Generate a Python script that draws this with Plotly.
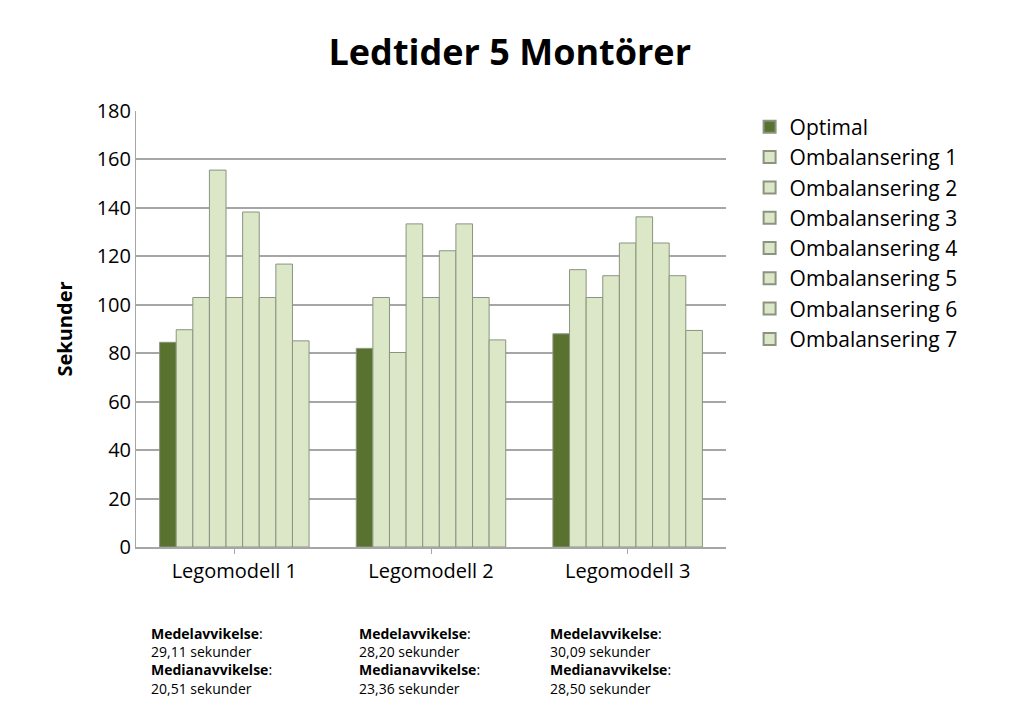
import plotly.graph_objects as go

categories = ["Legomodell 1", "Legomodell 2", "Legomodell 3"]
series_names = ["Optimal"] + [f"Ombalansering {i}" for i in range(1, 9)]
optimal = [84.5, 82, 88]
omb1 = [89.7, 103, 114.5]
omb2 = [103, 80.3, 103]
omb3 = [155.6, 133.4, 112]
omb4 = [103, 103, 125.5]
omb5 = [138.3, 122.3, 136.3]
omb6 = [103, 133.4, 125.5]
omb7 = [116.8, 103, 112]
omb8 = [85.1, 85.5, 89.4]
values = [optimal, omb1, omb2, omb3, omb4, omb5, omb6, omb7, omb8]
stats = [("29,11", "20,51"), ("28,20", "23,36"), ("30,09", "28,50")]

fig = go.Figure()
for i, (name, vals) in enumerate(zip(series_names, values)):
    fig.add_trace(go.Bar(
        x=categories, y=vals, name=name, showlegend=(i < 8),
        marker=dict(color="#5a7230" if i == 0 else "#dbe7c6",
                    line=dict(color="#8a9480", width=1)),
    ))

L, R, T, B = 128, 306, 103, 178
plot_w = 1024 - L - R
plot_h = 717 - T - B

fig.update_layout(
    width=1024, height=717, barmode="group", bargap=0.24, bargroupgap=0,
    paper_bgcolor="white", plot_bgcolor="white",
    font=dict(family="Open Sans, DejaVu Sans, sans-serif", color="black"),
    title=dict(text="<b>Ledtider 5 Montörer</b>", x=0.49, xanchor="center",
               y=0.955, font=dict(size=36)),
    margin=dict(l=L, r=R, t=T, b=B),
    yaxis=dict(range=[0, 180], dtick=20, gridcolor="#a6a6a6", gridwidth=2,
               showline=True, linecolor="#a6a6a6", tickfont=dict(size=20),
               title=dict(text="<b>Sekunder</b>", font=dict(size=20), standoff=18)),
    xaxis=dict(showline=True, linecolor="#a6a6a6", linewidth=2,
               tickfont=dict(size=20), ticks="outside", tickcolor="#a6a6a6"),
    legend=dict(x=1.04, y=1.01, yanchor="top", font=dict(size=21),
                tracegroupgap=0, itemsizing="constant"),
)
for px, (me, md) in zip([141, 349, 540], stats):
    fig.add_annotation(
        xref="paper", yref="paper", x=(px - L) / plot_w, y=-(614 - 539) / plot_h,
        xanchor="left", yanchor="top", align="left", showarrow=False,
        font=dict(size=14),
        text=f"<b>Medelavvikelse</b>:<br>{me} sekunder<br><b>Medianavvikelse</b>:<br>{md} sekunder",
    )
fig.write_html("out.html")
